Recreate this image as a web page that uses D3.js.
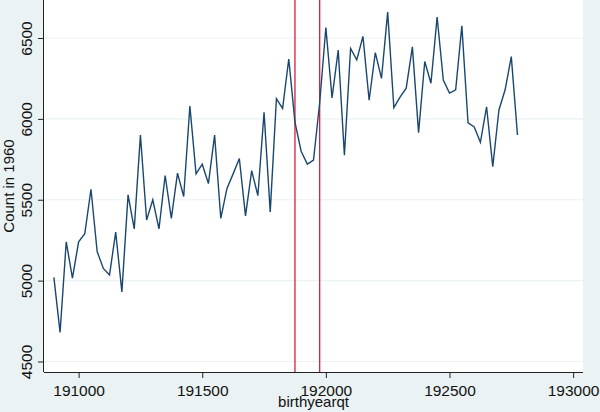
<!DOCTYPE html>
<html>
<head>
<meta charset="utf-8">
<script src="https://cdn.jsdelivr.net/npm/d3@7"></script>
<style>
  html, body { margin: 0; padding: 0; background: #eaf2f3; }
  svg { display: block; }
  text { font-family: "Liberation Sans", Arial, sans-serif; }
</style>
</head>
<body>
<svg id="chart" width="600" height="412"></svg>
<script>
// Data: count in 1960 by birth year-quarter (190900 = 1909q1, step 25 per quarter)
const startQt = 190900;
const stepQt = 25;
const counts = [
  5020, 4680, 5240, 5015, 5240, 5290, 5565, 5180, 5075, 5035,
  5300, 4930, 5530, 5320, 5900, 5375, 5500, 5320, 5650, 5385,
  5665, 5520, 6080, 5660, 5720, 5600, 5900, 5385, 5570, 5660,
  5755, 5400, 5680, 5525, 6040, 5425, 6125, 6065, 6370, 5980,
  5800, 5720, 5745, 6100, 6565, 6130, 6425, 5775, 6435, 6365,
  6510, 6115, 6410, 6250, 6660, 6070, 6135, 6190, 6445, 5915,
  6355, 6220, 6630, 6240, 6160, 6180, 6575, 5975, 5950, 5855,
  6075, 5705, 6055, 6180, 6385, 5900
];
const birthyearqt = counts.map((_, i) => startQt + i * stepQt);
const xTicks = [191000, 191500, 192000, 192500, 193000];
const yTicks = [4500, 5000, 5500, 6000, 6500];
const refLines = [191875, 191975];

const data = birthyearqt.map((q, i) => ({ q, c: counts[i] }));

const svg = d3.select("#chart");
const plot = { left: 44, right: 583, top: 0, bottom: 372 };

const x = d3.scaleLinear().domain([190860, 193040]).range([plot.left, plot.right]);
const y = d3.scaleLinear().domain([4435, 6735]).range([plot.bottom, plot.top]);

const bg = "#eaf2f3";
svg.append("rect").attr("width", 600).attr("height", 412).attr("fill", bg);
svg.append("rect")
  .attr("x", plot.left).attr("y", plot.top)
  .attr("width", plot.right - plot.left).attr("height", plot.bottom - plot.top)
  .attr("fill", "#ffffff");

// gridlines
svg.append("g").selectAll("line").data(yTicks).join("line")
  .attr("x1", plot.left).attr("x2", plot.right)
  .attr("y1", d => y(d)).attr("y2", d => y(d))
  .attr("stroke", bg).attr("stroke-width", 1.2);

// reference lines
svg.append("g").selectAll("line").data(refLines).join("line")
  .attr("x1", d => x(d)).attr("x2", d => x(d))
  .attr("y1", plot.top).attr("y2", plot.bottom)
  .attr("stroke", "#d41f3d").attr("stroke-width", 1.3);

// series line
const line = d3.line().x(d => x(d.q)).y(d => y(d.c));
svg.append("path").datum(data)
  .attr("d", line)
  .attr("fill", "none")
  .attr("stroke", "#1a476f")
  .attr("stroke-width", 1.4)
  .attr("stroke-linejoin", "miter");

// x axis
const xAxis = d3.axisBottom(x).tickValues(xTicks).tickSize(6).tickPadding(7).tickFormat(d3.format("d"));
const gx = svg.append("g").attr("transform", `translate(0,${plot.bottom})`).call(xAxis);
gx.select(".domain").attr("stroke", "#222").attr("d", `M${plot.left},0.5H${plot.right}`);
gx.selectAll(".tick line").attr("stroke", "#222");
gx.selectAll(".tick text").attr("font-size", "15.5px").attr("fill", "#111")
  .attr("font-family", "'Liberation Sans', Arial, sans-serif");

// y axis
const yAxis = d3.axisLeft(y).tickValues(yTicks).tickSize(6).tickFormat(d3.format("d"));
const gy = svg.append("g").attr("transform", `translate(${plot.left},0)`).call(yAxis);
gy.select(".domain").attr("stroke", "#222").attr("d", `M-0.5,${plot.top}V${plot.bottom}`);
gy.selectAll(".tick line").attr("stroke", "#222");
gy.selectAll(".tick text")
  .attr("font-size", "15.5px").attr("fill", "#111")
  .attr("font-family", "'Liberation Sans', Arial, sans-serif")
  .attr("x", null).attr("dy", null)
  .attr("text-anchor", "middle")
  .attr("transform", "translate(-12.5,0) rotate(-90)");

// axis titles
svg.append("text")
  .attr("x", (plot.left + plot.right) / 2).attr("y", 407)
  .attr("text-anchor", "middle").attr("font-size", "15px").attr("fill", "#111")
  .text("birthyearqt");
svg.append("text")
  .attr("transform", `translate(14,${(plot.top + plot.bottom) / 2}) rotate(-90)`)
  .attr("text-anchor", "middle").attr("font-size", "15px").attr("fill", "#111")
  .text("Count in 1960");
</script>
</body>
</html>
